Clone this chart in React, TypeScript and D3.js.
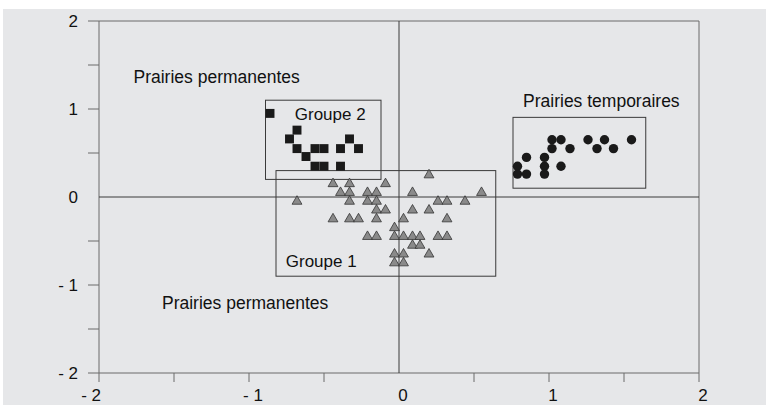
import React from 'react';
import * as d3 from 'd3';

// Groupe 2 (carrés noirs)
const squares: [number, number][] = [
  [-0.86, 0.95], [-0.68, 0.76], [-0.73, 0.66], [-0.68, 0.55], [-0.62, 0.46],
  [-0.56, 0.55], [-0.5, 0.55], [-0.56, 0.35], [-0.5, 0.35], [-0.39, 0.55],
  [-0.33, 0.66], [-0.27, 0.55], [-0.39, 0.35]
];

// Groupe 1 (triangles gris)
const triangles: [number, number][] = [
  [0.2, 0.25],
  [-0.44, 0.15], [-0.33, 0.15], [-0.09, 0.15],
  [-0.39, 0.05], [-0.33, 0.05], [-0.21, 0.05], [-0.15, 0.05], [0.09, 0.05], [0.55, 0.05],
  [-0.68, -0.05], [-0.33, -0.05], [-0.21, -0.05], [-0.15, -0.05], [0.26, -0.05], [0.32, -0.05], [0.44, -0.05],
  [-0.15, -0.15], [-0.09, -0.15], [0.09, -0.15], [0.2, -0.15],
  [-0.44, -0.25], [-0.33, -0.25], [-0.27, -0.25], [-0.15, -0.25], [0.03, -0.25], [0.32, -0.25],
  [-0.03, -0.35],
  [-0.21, -0.45], [-0.15, -0.45], [-0.03, -0.45], [0.03, -0.45], [0.09, -0.45], [0.14, -0.45], [0.26, -0.45], [0.32, -0.45],
  [0.09, -0.55], [0.14, -0.55],
  [-0.03, -0.65], [0.03, -0.65], [0.2, -0.65],
  [-0.03, -0.75], [0.03, -0.75]
];

// Prairies temporaires (ronds noirs)
const circles: [number, number][] = [
  [1.02, 0.65], [1.08, 0.65], [1.02, 0.55], [1.14, 0.55], [1.26, 0.65],
  [1.32, 0.55], [1.37, 0.65], [1.43, 0.55], [1.55, 0.65], [0.85, 0.45],
  [0.97, 0.45], [0.79, 0.35], [0.97, 0.35], [1.08, 0.35], [0.79, 0.26],
  [0.85, 0.26], [0.97, 0.26]
];

// cadres [x0, y0, x1, y1]
const boxes: [number, number, number, number][] = [
  [-0.82, 0.3, 0.645, -0.9],
  [-0.89, 1.1, -0.12, 0.2],
  [0.76, 0.905, 1.645, 0.1]
];

const labels: { text: string; x: number; y: number; size: number }[] = [
  { text: 'Prairies permanentes', x: -1.77, y: 1.3, size: 17.5 },
  { text: 'Prairies temporaires', x: 0.827, y: 1.026, size: 17.5 },
  { text: 'Groupe 2', x: -0.695, y: 0.875, size: 17 },
  { text: 'Groupe 1', x: -0.755, y: -0.79, size: 17 },
  { text: 'Prairies permanentes', x: -1.58, y: -1.27, size: 17.5 }
];

const ticks = [-2, -1.5, -1, -0.5, 0, 0.5, 1, 1.5, 2];
const tickLabels = [-2, -1, 0, 1, 2];

const fmt = (v: number) => (v < 0 ? `- ${-v}` : `${v}`);

export default function App(): JSX.Element {
  const W = 766;
  const H = 405;
  const x = d3.scaleLinear().domain([-2, 2]).range([99, 699]);
  const y = d3.scaleLinear().domain([-2, 2]).range([373, 21]);

  const tri = d3.symbol(d3.symbolTriangle, 42)() as string;
  const sq = d3.symbol(d3.symbolSquare, 80)() as string;

  const axisColor = '#6a6a6a';
  const lineColor = '#3a3a3a';
  const font = '"Liberation Sans", Arial, sans-serif';

  return (
    <svg
      width={W}
      height={H}
      style={{ position: 'absolute', left: 0, top: 0, fontFamily: font }}
    >
      <rect x={0} y={0} width={W} height={H} fill="#ffffff" />
      <rect x={3} y={9} width={W - 3} height={H - 9} fill="#e6e7e9" />

      {/* cadre */}
      <line x1={x(-2)} x2={x(2)} y1={y(2)} y2={y(2)} stroke={axisColor} />
      <line x1={x(2)} x2={x(2)} y1={y(2)} y2={y(-2)} stroke={axisColor} />
      <line x1={x(-2)} x2={x(-2)} y1={y(2)} y2={y(-2)} stroke={axisColor} />
      <line x1={x(-2)} x2={x(2)} y1={y(-2)} y2={y(-2)} stroke={axisColor} />

      {/* axes zéro */}
      <line x1={x(-2)} x2={x(2)} y1={y(0)} y2={y(0)} stroke={lineColor} />
      <line x1={x(0)} x2={x(0)} y1={y(2)} y2={y(-2)} stroke={lineColor} />

      {/* graduations */}
      {ticks.filter((t) => t !== 0).map((t) => (
        <g key={'t' + t}>
          <line x1={x(-2) - 11} x2={x(-2)} y1={y(t)} y2={y(t)} stroke={axisColor} />
          <line x1={x(t)} x2={x(t)} y1={y(-2)} y2={y(-2) + 9} stroke={axisColor} />
        </g>
      ))}
      {tickLabels.map((t, i) => (
        <g key={'l' + t} fontSize={17} fill="#111">
          <text x={78} y={y(t)} dy="0.36em" textAnchor="end">
            {fmt(t)}
          </text>
          <text
            x={i === 0 ? x(t) + 2 : x(t) + 4}
            y={401}
            textAnchor={i === 0 ? 'end' : 'middle'}
          >
            {fmt(t)}
          </text>
        </g>
      ))}

      {/* cadres des groupes */}
      {boxes.map((b, i) => (
        <rect
          key={'b' + i}
          x={x(b[0])}
          y={y(b[1])}
          width={x(b[2]) - x(b[0])}
          height={y(b[3]) - y(b[1])}
          fill="none"
          stroke={lineColor}
        />
      ))}

      {squares.map((d, i) => (
        <path key={'s' + i} d={sq} transform={`translate(${x(d[0])},${y(d[1])})`} fill="#1a1a1a" />
      ))}
      {triangles.map((d, i) => (
        <path
          key={'tr' + i}
          d={tri}
          transform={`translate(${x(d[0])},${y(d[1])})`}
          fill="#8a8a8a"
          stroke="#333"
          strokeWidth={0.8}
        />
      ))}
      {circles.map((d, i) => (
        <circle key={'c' + i} cx={x(d[0])} cy={y(d[1])} r={4.7} fill="#1a1a1a" />
      ))}

      {labels.map((l, i) => (
        <text key={'lab' + i} x={x(l.x)} y={y(l.y)} fontSize={l.size} fill="#111">
          {l.text}
        </text>
      ))}
    </svg>
  );
}
